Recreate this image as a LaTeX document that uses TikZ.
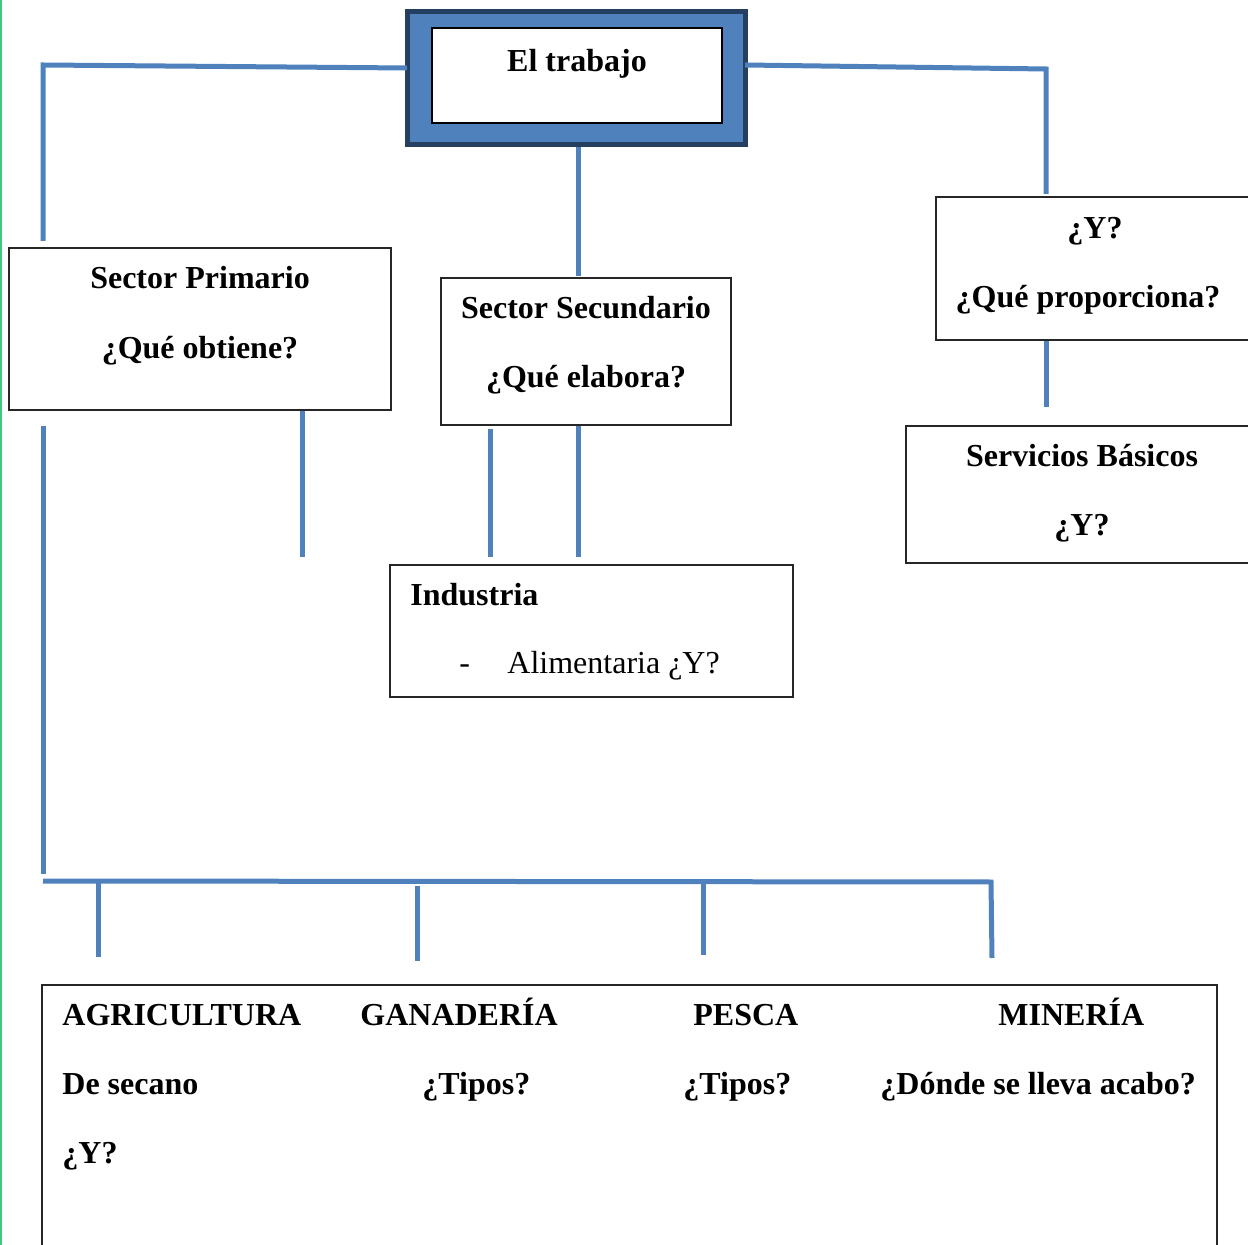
\documentclass[tikz,border=0pt]{standalone}
\usepackage{fontspec}
\setmainfont{Liberation Serif}
\usetikzlibrary{fit}
\definecolor{azul}{HTML}{4F81BD}
\definecolor{azuloscuro}{HTML}{243F60}
\definecolor{verde}{HTML}{3CCB7F}

\begin{document}
\begin{tikzpicture}[
    x=0.5pt, y=-0.5pt,
    caja/.style={rectangle, draw=black!85, line width=0.75pt, inner sep=0pt},
    marco/.style={rectangle, draw=azuloscuro, fill=azul, line width=2.5pt, inner sep=0pt},
    interior/.style={rectangle, draw=black, fill=white, line width=0.6pt, inner sep=0pt},
    texto/.style={font=\fontsize{16}{19}\selectfont\bfseries, inner sep=0pt, anchor=base},
    textoizq/.style={texto, anchor=base west},
    linea/.style={draw=azul, line width=2.5pt}
]
\useasboundingbox (0,0) rectangle (1248,1245);
\clip (0,0) rectangle (1248,1245);
\draw[verde, line width=0.8pt] (1,0) -- (1,1245);

% cajas
\node[marco, fit={(407,12) (745,145)}] (trabajo) {};
\node[interior, fit={(432,28) (722,123)}] (trabajoin) {};
\node[caja, fit={(9,248) (391,410)}] (primario) {};
\node[caja, fit={(441,278) (731,425)}] (secundario) {};
\node[caja, fit={(936,197) (1265,340)}] (terciario) {};
\node[caja, fit={(906,426) (1265,563)}] (servicios) {};
\node[caja, fit={(390,565) (793,697)}] (industria) {};
\node[caja, fit={(42,985) (1217,1265)}] (sectores) {};

% textos
\node[texto] (ttrabajo) at (577,72) {El trabajo};
\node[texto] (tprim1) at (200,289) {Sector Primario};
\node[texto] (tprim2) at (200,359) {¿Qué obtiene?};
\node[texto] (tsec1) at (586,319) {Sector Secundario};
\node[texto] (tsec2) at (586,388) {¿Qué elabora?};
\node[texto] (tter1) at (1095,239) {¿Y?};
\node[texto] (tter2) at (1088,308) {¿Qué proporciona?};
\node[texto] (tserv1) at (1082,467) {Servicios Básicos};
\node[texto] (tserv2) at (1082,536) {¿Y?};
\node[textoizq] (tind1) at (410,606) {Industria};
\node[textoizq, font=\fontsize{16}{19}\selectfont] (tind2) at (459,674) {-};
\node[textoizq, font=\fontsize{16}{19}\selectfont] (tind3) at (507,674) {Alimentaria ¿Y?};
\node[textoizq] (tagri1) at (62,1025) {AGRICULTURA};
\node[textoizq] (tagri2) at (62,1094) {De secano};
\node[textoizq] (tagri3) at (62,1163) {¿Y?};
\node[textoizq] (tgan1) at (360,1025) {GANADERÍA};
\node[textoizq] (tgan2) at (422,1094) {¿Tipos?};
\node[textoizq] (tpes1) at (693,1025) {PESCA};
\node[textoizq] (tpes2) at (683,1094) {¿Tipos?};
\node[textoizq] (tmin1) at (998,1025) {MINERÍA};
\node[textoizq] (tmin2) at (880,1094) {¿Dónde se lleva acabo?};

% puntos de los conectores
\coordinate (a1) at (43,241);
\coordinate (a2) at (43,65);
\coordinate (a3) at (407,68);
\coordinate (b1) at (745,65);
\coordinate (b2) at (1046,69);
\coordinate (b3) at (1046,194);
\coordinate (c1) at (578,276);
\coordinate (d1) at (43,426);
\coordinate (d2) at (43,874);
\coordinate (e1) at (302,557);
\coordinate (f1) at (490,429);
\coordinate (f2) at (490,557);
\coordinate (g1) at (578,426);
\coordinate (g2) at (578,557);
\coordinate (h1) at (1046,407);
\coordinate (r0) at (43,881);
\coordinate (r1) at (991,882);
\coordinate (p1) at (98,881);
\coordinate (p2) at (98,957);
\coordinate (q1) at (417,886);
\coordinate (q2) at (417,961);
\coordinate (s1) at (703,882);
\coordinate (s2) at (703,955);
\coordinate (u1) at (992,958);

% conectores
\draw[linea] (a1) -- (a2) -- (a3);
\draw[linea] (b1) -- (b2) -- (b3);
\draw[linea] (trabajo.south -| c1) -- (c1);
\draw[linea] (d1) -- (d2);
\draw[linea] (primario.south -| e1) -- (e1);
\draw[linea] (f1) -- (f2);
\draw[linea] (g1) -- (g2);
\draw[linea] (terciario.south -| h1) -- (h1);
\draw[linea] (r0) -- (r1) -- (u1);
\draw[linea] (p1) -- (p2);
\draw[linea] (q1) -- (q2);
\draw[linea] (s1) -- (s2);

\end{tikzpicture}
\end{document}
